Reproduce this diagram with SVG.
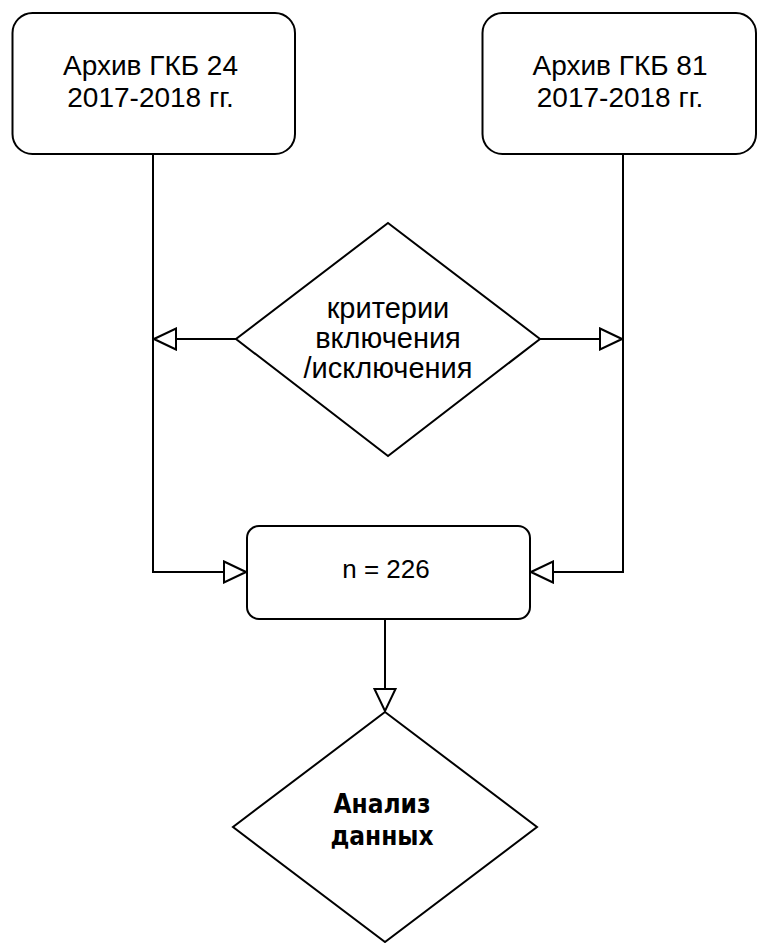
<svg xmlns="http://www.w3.org/2000/svg" width="758" height="943" viewBox="0 0 758 943">
<style>
.shape{fill:#fff;stroke:#000;stroke-width:2}
.edge{fill:none;stroke:#000;stroke-width:2;marker-end:url(#open)}
.t{font-family:"Liberation Sans",Arial,sans-serif;font-size:28px;fill:#000;text-anchor:middle}
.b{font-family:"DejaVu Sans Condensed","DejaVu Sans",sans-serif;font-size:26px;font-weight:bold;fill:#000;text-anchor:middle}
</style>
<defs>
<marker id="open" viewBox="0 0 24 24" refX="23" refY="12" markerWidth="24" markerHeight="24" markerUnits="userSpaceOnUse" orient="auto">
<path d="M1,1.5 L23,12 L1,22.5 Z" fill="#fff" stroke="#000" stroke-width="2"/>
</marker>
</defs>
<rect width="758" height="943" fill="#fff"/>
<g id="connectors">
<path class="edge" d="M153,154 V572 H246"/>
<path class="edge" d="M623,154 V572 H531"/>
<path class="edge" d="M236,339 H154"/>
<path class="edge" d="M540,339 H622"/>
<path class="edge" d="M385,619 V711"/>
</g>
<g id="archive24">
<rect class="shape" x="12.5" y="13" width="282.5" height="141" rx="20" ry="20"/>
<text class="t" x="150.5" y="75">Архив ГКБ 24</text>
<text class="t" x="150.5" y="106.5">2017-2018 гг.</text>
</g>
<g id="archive81">
<rect class="shape" x="482.5" y="13" width="273.5" height="141" rx="20" ry="20"/>
<text class="t" x="620" y="75">Архив ГКБ 81</text>
<text class="t" x="620" y="106.5">2017-2018 гг.</text>
</g>
<g id="criteria">
<polygon class="shape" points="388,223 540,339 388,456 236,339"/>
<text class="t" x="388" y="318" style="font-size:29px">критерии</text>
<text class="t" x="388" y="348" style="font-size:29px">включения</text>
<text class="t" x="388" y="378" style="font-size:29px">/исключения</text>
</g>
<g id="n226">
<rect class="shape" x="247" y="526" width="283" height="93" rx="12" ry="12"/>
<text class="t" x="386" y="578" style="font-size:26px">n = 226</text>
</g>
<g id="analysis">
<polygon class="shape" points="385,712 537,827 385,942 233,827"/>
<text class="b" x="382" y="813">Анализ</text>
<text class="b" x="382" y="845">данных</text>
</g>
</svg>
